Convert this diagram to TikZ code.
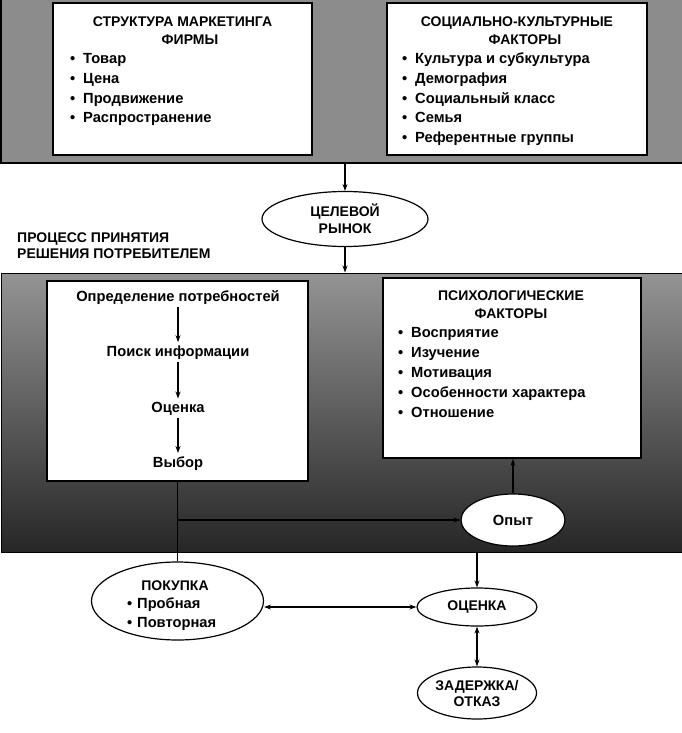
\documentclass[tikz,border=0pt]{standalone}
\usepackage{fontspec}
\setmainfont{Liberation Sans}
\usetikzlibrary{shapes.geometric,arrows.meta}
\newcommand\mybul{\makebox[13pt][l]{•}}
\newcommand\mybulb{\makebox[10pt][l]{•}}
\begin{document}
\begin{tikzpicture}[x=1pt,y=-1pt,
  every node/.style={font=\fontsize{14}{18}\selectfont\bfseries},
  body/.style={font=\fontsize{14.7}{18}\selectfont\bfseries},
  panel/.style={draw=black,line width=1.5pt,inner sep=0pt},
  wbox/.style={draw=black,line width=1.8pt,fill=white,inner sep=0pt},
  oval/.style={ellipse,draw=black,line width=1.2pt,fill=white,inner sep=0pt,align=center},
  txt/.style={inner sep=0pt,anchor=base},
  stxt/.style={body,inner sep=3pt,anchor=base},
  item/.style={body,inner sep=0pt,anchor=base west},
  capitem/.style={inner sep=0pt,anchor=base west},
  arr/.style={-{Stealth[length=7pt,width=5pt]},line width=1.1pt},
  darr/.style={{Stealth[length=7pt,width=5pt]}-{Stealth[length=7pt,width=5pt]},line width=1.1pt},
  ln/.style={line width=1.1pt}]
\useasboundingbox (0,0) rectangle (682,733);
\fill[white] (0,0) rectangle (682,733);

% top panel
\node[panel, fill=black!45, minimum width=690pt, minimum height=173pt] (top) at (346,76.5) {};
\node[wbox, minimum width=259pt, minimum height=152pt] (mkt) at (182.5,79) {};
\node[wbox, minimum width=260pt, minimum height=152pt] (soc) at (517,79) {};
\node[txt] (mktA) at (182.5,27) {СТРУКТУРА МАРКЕТИНГА};
\node[txt] (mktB) at (190,45) {ФИРМЫ};
\node[txt] (socA) at (517,27) {СОЦИАЛЬНО-КУЛЬТУРНЫЕ};
\node[txt] (socB) at (525,45) {ФАКТОРЫ};
\foreach \t [count=\i] in {Товар,Цена,Продвижение,Распространение}
  \node[item] (mkt\i) at (70,44.4+19.6*\i) {\mybul\t};
\foreach \t [count=\i] in {Культура и субкультура,Демография,Социальный класс,Семья,Референтные группы}
  \node[item] (soc\i) at (402,44.4+19.6*\i) {\mybul\t};

% target market
\node[oval, minimum width=166pt, minimum height=55pt, font=\fontsize{14}{17}\selectfont\bfseries] (rynok) at (345,219) {ЦЕЛЕВОЙ\\РЫНОК};
\node[capitem] (procA) at (17,242) {ПРОЦЕСС ПРИНЯТИЯ};
\node[capitem] (procB) at (17,258) {РЕШЕНИЯ ПОТРЕБИТЕЛЕМ};

% middle panel
\node[panel, line width=1pt, top color=black!42, middle color=black!52, bottom color=black!85, minimum width=690pt, minimum height=279pt] (mid) at (346,412.5) {};
\node[wbox, minimum width=261pt, minimum height=200pt] (dec) at (177.5,381) {};
\node[wbox, minimum width=258pt, minimum height=180pt] (psy) at (512,368) {};
\node[stxt] (s1) at (178,301) {Определение потребностей};
\node[stxt] (s2) at (178,356) {Поиск информации};
\node[stxt] (s3) at (178,412) {Оценка};
\node[stxt] (s4) at (178,467) {Выбор};
\draw[arr] (s1) -- (s2);
\draw[arr] (s2) -- (s3);
\draw[arr] (s3) -- (s4);
\node[txt] (psyA) at (511,300) {ПСИХОЛОГИЧЕСКИЕ};
\node[txt] (psyB) at (511,318) {ФАКТОРЫ};
\foreach \t [count=\i] in {Восприятие,Изучение,Мотивация,Особенности характера,Отношение}
  \node[item] (psy\i) at (398,317+20*\i) {\mybul\t};
\node[oval, body, minimum width=104pt, minimum height=52pt] (opyt) at (513,520) {Опыт};

% bottom
\node[oval, minimum width=172pt, minimum height=78pt] (pokupka) at (177.5,601) {};
\node[txt] (pokA) at (175,590) {ПОКУПКА};
\node[item] (pok1) at (127,608) {\mybulb Пробная};
\node[item] (pok2) at (127,627) {\mybulb Повторная};
\node[oval, minimum width=120pt, minimum height=38pt] (ocenka) at (477,607) {ОЦЕНКА};
\node[oval, minimum width=119pt, minimum height=52pt, font=\fontsize{14}{16}\selectfont\bfseries] (zader) at (477,693) {ЗАДЕРЖКА/\\ОТКАЗ};

% connectors
\draw[arr] (rynok.north |- top.south) -- (rynok.north);
\draw[arr] (rynok.south) -- (rynok.south |- mid.north);
\coordinate (br) at (dec.south |- opyt.west);
\draw[ln] (dec.south) -- (pokupka.north);
\draw[arr] (br) -- (opyt.west);
\draw[arr] (opyt.north) -- (opyt.north |- psy.south);
\draw[arr] (ocenka.north |- mid.south) -- (ocenka.north);
\draw[darr] (pokupka.east |- ocenka.west) -- (ocenka.west);
\draw[darr] (ocenka.south) -- (zader.north);
\end{tikzpicture}
\end{document}
